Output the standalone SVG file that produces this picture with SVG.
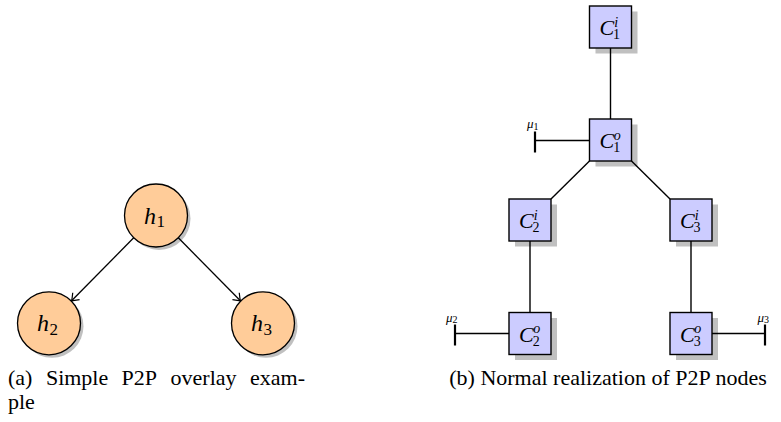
<svg xmlns="http://www.w3.org/2000/svg" width="781" height="422" viewBox="0 0 781 422">
  <defs>
    <style>
      .circ { fill: #ffcc99; stroke: #000; stroke-width: 1.3; }
      .shadow { fill: #c0c0c0; }
      .box { fill: #ccccff; stroke: #000; stroke-width: 1.4; }
      .edge { stroke: #000; stroke-width: 1.4; fill: none; }
      .arrow { stroke: #000; stroke-width: 1.3; fill: none; marker-end: url(#tip); }
      .bar { stroke: #000; stroke-width: 2.2; }
      text { fill: #000; font-family: Liberation Serif, DejaVu Serif, Times New Roman, serif; }
      .math { font-style: italic; }
      .up { font-style: normal; }
    </style>
    <marker id="tip" markerUnits="userSpaceOnUse" markerWidth="14" markerHeight="14" viewBox="-8 -7 10 14" refX="0" refY="0" orient="auto">
      <path d="M -6.5 -4.8 Q -2 -1.2 0 0 Q -2 1.2 -6.5 4.8" fill="none" stroke="#000" stroke-width="1.2"/>
    </marker>
  </defs>

  <!-- (a) overlay graph -->
  <g id="h1">
    <circle class="shadow" cx="159" cy="218.5" r="31.5"/>
    <circle class="circ" cx="156" cy="215.5" r="31.5"/>
    <text class="math" x="144" y="223.5" font-size="24">h<tspan class="up" dx="0.5" dy="3.5" font-size="17">1</tspan></text>
  </g>
  <g id="h2">
    <circle class="shadow" cx="52" cy="326.3" r="31.5"/>
    <circle class="circ" cx="49" cy="323.3" r="31.5"/>
    <text class="math" x="37" y="331.3" font-size="24">h<tspan class="up" dx="0.5" dy="3.5" font-size="17">2</tspan></text>
  </g>
  <g id="h3">
    <circle class="shadow" cx="266" cy="326.3" r="31.5"/>
    <circle class="circ" cx="263" cy="323.3" r="31.5"/>
    <text class="math" x="251" y="331.3" font-size="24">h<tspan class="up" dx="0.5" dy="3.5" font-size="17">3</tspan></text>
  </g>

  <!-- (b) node realization -->
  <g id="C1i">
    <rect class="shadow" x="595.5" y="11.5" width="42" height="42"/>
    <rect class="box" x="589.5" y="6" width="42" height="42"/>
    <text class="math" x="599.5" y="35" font-size="22">C<tspan dx="0" dy="-8.5" font-size="14">i</tspan><tspan class="up" dx="-5" dy="12.5" font-size="14">1</tspan></text>
  </g>
  <g id="C1o">
    <rect class="shadow" x="595.5" y="124.5" width="42" height="42"/>
    <rect class="box" x="589.5" y="119" width="42" height="42"/>
    <text class="math" x="599.5" y="148" font-size="22">C<tspan dx="-0.5" dy="-8.5" font-size="14">o</tspan><tspan class="up" dx="-7.5" dy="12.5" font-size="14">1</tspan></text>
  </g>
  <g id="C2i">
    <rect class="shadow" x="515" y="204.5" width="42" height="42"/>
    <rect class="box" x="509" y="199" width="42" height="42"/>
    <text class="math" x="519" y="228" font-size="22">C<tspan dx="0" dy="-8.5" font-size="14">i</tspan><tspan class="up" dx="-5" dy="12.5" font-size="14">2</tspan></text>
  </g>
  <g id="C3i">
    <rect class="shadow" x="676" y="204.5" width="42" height="42"/>
    <rect class="box" x="670" y="199" width="42" height="42"/>
    <text class="math" x="680" y="228" font-size="22">C<tspan dx="0" dy="-8.5" font-size="14">i</tspan><tspan class="up" dx="-5" dy="12.5" font-size="14">3</tspan></text>
  </g>
  <g id="C2o">
    <rect class="shadow" x="515" y="318" width="42" height="42"/>
    <rect class="box" x="509" y="312.5" width="42" height="42"/>
    <text class="math" x="519" y="341.5" font-size="22">C<tspan dx="-0.5" dy="-8.5" font-size="14">o</tspan><tspan class="up" dx="-7.5" dy="12.5" font-size="14">2</tspan></text>
  </g>
  <g id="C3o">
    <rect class="shadow" x="676" y="318" width="42" height="42"/>
    <rect class="box" x="670" y="312.5" width="42" height="42"/>
    <text class="math" x="680" y="341.5" font-size="22">C<tspan dx="-0.5" dy="-8.5" font-size="14">o</tspan><tspan class="up" dx="-7.5" dy="12.5" font-size="14">3</tspan></text>
  </g>

  <!-- connectors -->
  <g id="connectors">
    <line class="arrow" x1="133.7" y1="237.8" x2="71.6" y2="300.8"/>
    <line class="arrow" x1="178.3" y1="237.8" x2="240.4" y2="300.8"/>

    <line class="edge" x1="610.5" y1="48" x2="610.5" y2="119"/>
    <line class="edge" x1="589.5" y1="161" x2="551" y2="199"/>
    <line class="edge" x1="631.5" y1="161" x2="670" y2="199"/>
    <line class="edge" x1="530" y1="241" x2="530" y2="312.5"/>
    <line class="edge" x1="691" y1="241" x2="691" y2="312.5"/>

    <line class="edge" x1="589.5" y1="140.5" x2="535" y2="140.5"/>
    <line class="bar" x1="535" y1="131.5" x2="535" y2="152.5"/>
    <line class="edge" x1="509" y1="333.5" x2="455" y2="333.5"/>
    <line class="bar" x1="455" y1="324.5" x2="455" y2="345.5"/>
    <line class="edge" x1="712" y1="333.5" x2="765" y2="333.5"/>
    <line class="bar" x1="765" y1="324.5" x2="765" y2="345.5"/>
  </g>

  <!-- port labels -->
  <g id="labels">
    <text class="math" x="527" y="128" font-size="13">μ<tspan class="up" dy="1.5" font-size="10">1</tspan></text>
    <text class="math" x="446" y="321.5" font-size="13">μ<tspan class="up" dy="1.5" font-size="10">2</tspan></text>
    <text class="math" x="757.5" y="321.5" font-size="13">μ<tspan class="up" dy="1.5" font-size="10">3</tspan></text>
  </g>

  <!-- captions -->
  <g id="captions" font-size="22">
    <text y="385"><tspan x="8">(a)</tspan><tspan x="45.9">Simple</tspan><tspan x="121.6">P2P</tspan><tspan x="170.6">overlay</tspan><tspan x="250">exam-</tspan></text>
    <text x="8" y="409">ple</text>
    <text x="608" y="385" text-anchor="middle">(b) Normal realization of P2P nodes</text>
  </g>
</svg>
